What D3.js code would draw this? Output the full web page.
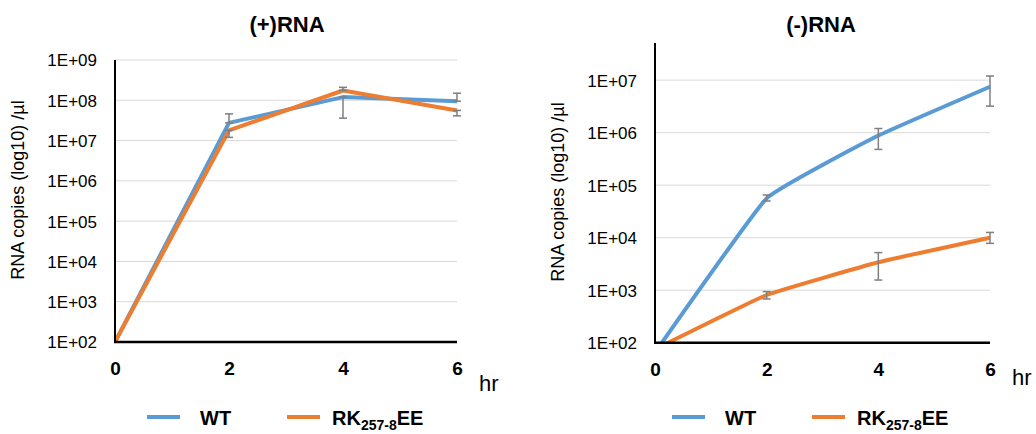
<!DOCTYPE html>
<html>
<head>
<meta charset="utf-8">
<script src="https://cdn.jsdelivr.net/npm/d3@7"></script>
<style>
  body { margin: 0; background: #fff; }
  svg { display: block; font-family: "Liberation Sans", Arial, sans-serif; }
</style>
</head>
<body>
<div id="chart"></div>
<script>
/**
 * DATA
 * */
const hours = [0, 2, 4, 6];
const seriesNames = ["WT", "RK257-8EE"];
const yTicksPlus = [1e2, 1e3, 1e4, 1e5, 1e6, 1e7, 1e8, 1e9];
const yTicksMinus = [1e2, 1e3, 1e4, 1e5, 1e6, 1e7];

// (+)RNA
const plusWT = [100, 2.75e7, 1.2e8, 9.5e7];
const plusRK = [100, 1.8e7, 1.75e8, 5.6e7];
const plusWTLo = [null, 2.75e7, 3.6e7, 9.5e7];
const plusWTHi = [null, 4.6e7, 1.2e8, 1.5e8];
const plusRKLo = [null, 1.2e7, 1.75e8, 4.1e7];
const plusRKHi = [null, 1.8e7, 2.1e8, 5.6e7];

// (-)RNA
const minusWT = [65, 5.6e4, 8.8e5, 7.5e6];
const minusRK = [75, 810, 3.4e3, 1.0e4];
const minusWTLo = [null, 5.0e4, 4.8e5, 3.2e6];
const minusWTHi = [null, 6.5e4, 1.2e6, 1.2e7];
const minusRKLo = [null, 680, 1.56e3, 7.8e3];
const minusRKHi = [null, 940, 5.2e3, 1.26e4];

const colors = ["#5B9BD5", "#ED7D31"];

/**
 * SVG
 * */
const svg = d3.select("#chart").append("svg")
  .attr("width", 1036)
  .attr("height", 434);

const defs = svg.append("defs");

function drawPanel(p) {
  const x = d3.scaleLinear().domain([0, 6]).range([p.x0, p.x1]);
  const y = d3.scaleLog().domain(p.yDomain).range([p.y0, p.y1]);
  const g = svg.append("g");

  // gridlines
  g.append("g")
    .selectAll("line")
    .data(p.yTicks)
    .join("line")
    .attr("x1", p.x0).attr("x2", p.x1)
    .attr("y1", d => y(d)).attr("y2", d => y(d))
    .attr("stroke", "#d9d9d9")
    .attr("stroke-width", 1);

  // y tick labels
  const yAxis = d3.axisLeft(y)
    .tickValues(p.yTicks)
    .tickSize(0)
    .tickPadding(0)
    .tickFormat(d => "1E+" + String(Math.round(Math.log10(d))).padStart(2, "0"));
  const ya = g.append("g")
    .attr("transform", `translate(${p.labelRight},0)`)
    .call(yAxis);
  ya.select(".domain").remove();
  ya.selectAll("text")
    .attr("font-family", null)
    .attr("font-size", 17)
    .attr("fill", "#000")
    .attr("dy", "0.35em");

  // x tick labels
  const xAxis = d3.axisBottom(x).tickValues(hours).tickSize(0).tickPadding(0)
    .tickFormat(d3.format("d"));
  const xa = g.append("g")
    .attr("transform", `translate(0,${p.y0 + 31})`)
    .call(xAxis);
  xa.select(".domain").remove();
  xa.selectAll("text")
    .attr("font-family", null)
    .attr("font-size", 19)
    .attr("font-weight", "bold")
    .attr("fill", "#000")
    .attr("dy", "0.1em");

  // hr label
  g.append("text")
    .attr("x", p.x1 + 22)
    .attr("y", p.hrY)
    .attr("font-size", 22)
    .text("hr");

  // clip for series lines
  const clipId = "clip-" + p.id;
  defs.append("clipPath").attr("id", clipId)
    .append("rect")
    .attr("x", p.x0).attr("y", p.y1 - 5)
    .attr("width", p.x1 - p.x0 + 10)
    .attr("height", p.y0 - p.y1 + 5);

  const line = d3.line()
    .x((d, i) => x(hours[i]))
    .y(d => y(d))
    .curve(p.curve);

  g.append("g")
    .attr("clip-path", `url(#${clipId})`)
    .selectAll("path")
    .data(p.series)
    .join("path")
    .attr("d", d => line(d.values))
    .attr("fill", "none")
    .attr("stroke", (d, i) => colors[i])
    .attr("stroke-width", 4)
    .attr("stroke-linejoin", "round");

  // error bars
  const bars = [];
  p.series.forEach(s => {
    hours.forEach((h, i) => {
      if (s.lo[i] != null) bars.push({ h, lo: s.lo[i], hi: s.hi[i] });
    });
  });
  const eb = g.append("g")
    .attr("stroke", "#7f7f7f")
    .attr("stroke-width", 1.5)
    .selectAll("g")
    .data(bars)
    .join("g");
  eb.append("line")
    .attr("x1", d => x(d.h)).attr("x2", d => x(d.h))
    .attr("y1", d => y(d.lo)).attr("y2", d => y(d.hi));
  eb.append("line")
    .attr("x1", d => x(d.h) - 4).attr("x2", d => x(d.h) + 4)
    .attr("y1", d => y(d.lo)).attr("y2", d => y(d.lo));
  eb.append("line")
    .attr("x1", d => x(d.h) - 4).attr("x2", d => x(d.h) + 4)
    .attr("y1", d => y(d.hi)).attr("y2", d => y(d.hi));

  // axis lines
  g.append("line")
    .attr("x1", p.x0).attr("x2", p.x0)
    .attr("y1", p.y1).attr("y2", p.y0 + 1)
    .attr("stroke", "#000").attr("stroke-width", 2);
  g.append("line")
    .attr("x1", p.x0 - 1).attr("x2", p.x1)
    .attr("y1", p.y0).attr("y2", p.y0)
    .attr("stroke", "#000").attr("stroke-width", 2.5);

  // title
  g.append("text")
    .attr("x", p.titleX)
    .attr("y", 32)
    .attr("text-anchor", "middle")
    .attr("font-size", 22)
    .attr("font-weight", "bold")
    .text(p.title);

  // y axis label
  g.append("text")
    .attr("transform", `translate(${p.yLabelX},${p.yLabelY}) rotate(-90)`)
    .attr("text-anchor", "middle")
    .attr("font-size", 18)
    .text("RNA copies (log10) /\u00b5l");

  // legend
  const leg = g.append("g").attr("transform", `translate(${p.legendX},417)`);
  const items = leg.selectAll("g")
    .data(seriesNames)
    .join("g")
    .attr("transform", (d, i) => `translate(${i * 140},0)`);
  items.append("line")
    .attr("x1", 0).attr("x2", 33)
    .attr("stroke", (d, i) => colors[i])
    .attr("stroke-width", 4);
  const lt = items.append("text")
    .attr("x", (d, i) => (i === 0 ? 53 : 45))
    .attr("y", 8)
    .attr("font-size", 20)
    .attr("font-weight", "bold");
  lt.filter((d, i) => i === 0).text(d => d);
  const rk = lt.filter((d, i) => i === 1);
  rk.append("tspan").text("RK");
  rk.append("tspan").attr("font-size", 14).attr("dy", 5).text("257-8");
  rk.append("tspan").attr("dy", -5).text("EE");
}

drawPanel({
  id: "plus",
  title: "(+)RNA",
  titleX: 287,
  x0: 115, x1: 457,
  y0: 342, y1: 60,
  yDomain: [1e2, 1e9],
  yTicks: yTicksPlus,
  labelRight: 97,
  hrY: 391,
  yLabelX: 24, yLabelY: 190,
  legendX: 147,
  curve: d3.curveLinear,
  series: [
    { values: plusWT, lo: plusWTLo, hi: plusWTHi },
    { values: plusRK, lo: plusRKLo, hi: plusRKHi }
  ]
});

drawPanel({
  id: "minus",
  title: "(-)RNA",
  titleX: 821,
  x0: 655, x1: 990,
  y0: 342.7, y1: 43,
  yDomain: [1e2, 5.1e7],
  yTicks: yTicksMinus,
  labelRight: 637,
  hrY: 385,
  yLabelX: 564, yLabelY: 192,
  legendX: 672,
  curve: d3.curveCardinal.tension(0.7),
  series: [
    { values: minusWT, lo: minusWTLo, hi: minusWTHi },
    { values: minusRK, lo: minusRKLo, hi: minusRKHi }
  ]
});
</script>
</body>
</html>
